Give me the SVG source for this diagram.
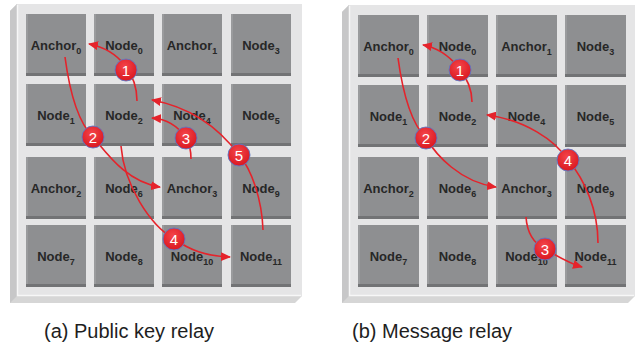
<svg xmlns="http://www.w3.org/2000/svg" width="637" height="347" viewBox="0 0 637 347">
<defs>
  <style>
    .tray-out { fill: #d6d6d6; }
    .tray-top { fill: #e5e5e6; }
    .tray-side { fill: #c7c7c8; }
    .tray-hl { fill: none; stroke: #f7f7f7; stroke-width: 1.5; }
    .tile { fill: #8e8f91; }
    .tile-sh { fill: #727375; }
    .tile-lt { fill: #9a9b9d; }
    .lbl { font-family: "Liberation Sans", Arial, sans-serif; font-weight: bold; font-size: 13px; fill: #272727; text-anchor: middle; }
    .sub { font-size: 9px; }
    .edge { fill: none; stroke: #e5232b; stroke-width: 1.6; marker-end: url(#arrow); }
    .badge { fill: url(#badgeFill); stroke: #5a78c8; stroke-width: 0.9; }
    .num { font-family: "Liberation Sans", Arial, sans-serif; font-size: 15px; fill: #ffffff; text-anchor: middle; }
    .cap { font-family: "Liberation Sans", Arial, sans-serif; font-size: 20px; fill: #1e1e1e; text-anchor: middle; }
  </style>
  <radialGradient id="badgeFill" cx="0.45" cy="0.35" r="0.7">
    <stop offset="0" stop-color="#f4454a"/>
    <stop offset="1" stop-color="#d8141d"/>
  </radialGradient>
  <marker id="arrow" markerUnits="userSpaceOnUse" markerWidth="10" markerHeight="9" refX="9" refY="4.5" orient="auto">
    <path d="M0,0 L10,4.5 L0,9 z" fill="#e5232b"/>
  </marker>
</defs>

<!-- Left panel tray -->
<g id="tray-a">
  <polygon class="tray-out" points="17,4 302,4 302,296 295,303 10,303 10,11"/>
  <polygon class="tray-side" points="10,11 17,4 17,296 10,303"/>
  <rect class="tray-top" x="17" y="4" width="285" height="292"/>
  <polyline class="tray-hl" points="17.5,5 17.5,295.5 301,295.5"/>
</g>

<!-- Right panel tray -->
<g id="tray-b">
  <polygon class="tray-out" points="349,5 635,5 635,296 628,303 342,303 342,12"/>
  <polygon class="tray-side" points="342,12 349,5 349,296 342,303"/>
  <rect class="tray-top" x="349" y="5" width="286" height="291"/>
  <polyline class="tray-hl" points="349.5,6 349.5,295.5 634,295.5"/>
</g>

<!-- Left panel nodes -->
<g id="a-anchor0"><rect class="tile" x="26" y="14" width="60" height="62"/><rect class="tile-sh" x="26" y="73" width="60" height="3"/><rect class="tile-lt" x="26" y="14" width="2" height="59"/><text class="lbl" x="56" y="50">Anchor<tspan class="sub" dy="4">0</tspan></text></g>
<g id="a-node0"><rect class="tile" x="94" y="14" width="60" height="62"/><rect class="tile-sh" x="94" y="73" width="60" height="3"/><rect class="tile-lt" x="94" y="14" width="2" height="59"/><text class="lbl" x="124" y="50">Node<tspan class="sub" dy="4">0</tspan></text></g>
<g id="a-anchor1"><rect class="tile" x="162" y="14" width="60" height="62"/><rect class="tile-sh" x="162" y="73" width="60" height="3"/><rect class="tile-lt" x="162" y="14" width="2" height="59"/><text class="lbl" x="192" y="50">Anchor<tspan class="sub" dy="4">1</tspan></text></g>
<g id="a-node3"><rect class="tile" x="231" y="14" width="60" height="62"/><rect class="tile-sh" x="231" y="73" width="60" height="3"/><rect class="tile-lt" x="231" y="14" width="2" height="59"/><text class="lbl" x="261" y="50">Node<tspan class="sub" dy="4">3</tspan></text></g>

<g id="a-node1"><rect class="tile" x="26" y="84" width="60" height="62"/><rect class="tile-sh" x="26" y="143" width="60" height="3"/><rect class="tile-lt" x="26" y="84" width="2" height="59"/><text class="lbl" x="56" y="120">Node<tspan class="sub" dy="4">1</tspan></text></g>
<g id="a-node2"><rect class="tile" x="94" y="84" width="60" height="62"/><rect class="tile-sh" x="94" y="143" width="60" height="3"/><rect class="tile-lt" x="94" y="84" width="2" height="59"/><text class="lbl" x="124" y="120">Node<tspan class="sub" dy="4">2</tspan></text></g>
<g id="a-node4"><rect class="tile" x="162" y="84" width="60" height="62"/><rect class="tile-sh" x="162" y="143" width="60" height="3"/><rect class="tile-lt" x="162" y="84" width="2" height="59"/><text class="lbl" x="192" y="120">Node<tspan class="sub" dy="4">4</tspan></text></g>
<g id="a-node5"><rect class="tile" x="231" y="84" width="60" height="62"/><rect class="tile-sh" x="231" y="143" width="60" height="3"/><rect class="tile-lt" x="231" y="84" width="2" height="59"/><text class="lbl" x="261" y="120">Node<tspan class="sub" dy="4">5</tspan></text></g>

<g id="a-anchor2"><rect class="tile" x="26" y="157" width="60" height="62"/><rect class="tile-sh" x="26" y="216" width="60" height="3"/><rect class="tile-lt" x="26" y="157" width="2" height="59"/><text class="lbl" x="56" y="193">Anchor<tspan class="sub" dy="4">2</tspan></text></g>
<g id="a-node6"><rect class="tile" x="94" y="157" width="60" height="62"/><rect class="tile-sh" x="94" y="216" width="60" height="3"/><rect class="tile-lt" x="94" y="157" width="2" height="59"/><text class="lbl" x="124" y="193">Node<tspan class="sub" dy="4">6</tspan></text></g>
<g id="a-anchor3"><rect class="tile" x="162" y="157" width="60" height="62"/><rect class="tile-sh" x="162" y="216" width="60" height="3"/><rect class="tile-lt" x="162" y="157" width="2" height="59"/><text class="lbl" x="192" y="193">Anchor<tspan class="sub" dy="4">3</tspan></text></g>
<g id="a-node9"><rect class="tile" x="231" y="157" width="60" height="62"/><rect class="tile-sh" x="231" y="216" width="60" height="3"/><rect class="tile-lt" x="231" y="157" width="2" height="59"/><text class="lbl" x="261" y="193">Node<tspan class="sub" dy="4">9</tspan></text></g>

<g id="a-node7"><rect class="tile" x="26" y="225" width="60" height="62"/><rect class="tile-sh" x="26" y="284" width="60" height="3"/><rect class="tile-lt" x="26" y="225" width="2" height="59"/><text class="lbl" x="56" y="261">Node<tspan class="sub" dy="4">7</tspan></text></g>
<g id="a-node8"><rect class="tile" x="94" y="225" width="60" height="62"/><rect class="tile-sh" x="94" y="284" width="60" height="3"/><rect class="tile-lt" x="94" y="225" width="2" height="59"/><text class="lbl" x="124" y="261">Node<tspan class="sub" dy="4">8</tspan></text></g>
<g id="a-node10"><rect class="tile" x="162" y="225" width="60" height="62"/><rect class="tile-sh" x="162" y="284" width="60" height="3"/><rect class="tile-lt" x="162" y="225" width="2" height="59"/><text class="lbl" x="192" y="261">Node<tspan class="sub" dy="4">10</tspan></text></g>
<g id="a-node11"><rect class="tile" x="231" y="225" width="60" height="62"/><rect class="tile-sh" x="231" y="284" width="60" height="3"/><rect class="tile-lt" x="231" y="225" width="2" height="59"/><text class="lbl" x="261" y="261">Node<tspan class="sub" dy="4">11</tspan></text></g>

<!-- Right panel nodes -->
<g id="b-anchor0"><rect class="tile" x="358" y="15" width="61" height="62"/><rect class="tile-sh" x="358" y="74" width="61" height="3"/><rect class="tile-lt" x="358" y="15" width="2" height="59"/><text class="lbl" x="388.5" y="51">Anchor<tspan class="sub" dy="4">0</tspan></text></g>
<g id="b-node0"><rect class="tile" x="427" y="15" width="61" height="62"/><rect class="tile-sh" x="427" y="74" width="61" height="3"/><rect class="tile-lt" x="427" y="15" width="2" height="59"/><text class="lbl" x="457.5" y="51">Node<tspan class="sub" dy="4">0</tspan></text></g>
<g id="b-anchor1"><rect class="tile" x="496" y="15" width="61" height="62"/><rect class="tile-sh" x="496" y="74" width="61" height="3"/><rect class="tile-lt" x="496" y="15" width="2" height="59"/><text class="lbl" x="526.5" y="51">Anchor<tspan class="sub" dy="4">1</tspan></text></g>
<g id="b-node3"><rect class="tile" x="565" y="15" width="61" height="62"/><rect class="tile-sh" x="565" y="74" width="61" height="3"/><rect class="tile-lt" x="565" y="15" width="2" height="59"/><text class="lbl" x="595.5" y="51">Node<tspan class="sub" dy="4">3</tspan></text></g>

<g id="b-node1"><rect class="tile" x="358" y="85" width="61" height="62"/><rect class="tile-sh" x="358" y="144" width="61" height="3"/><rect class="tile-lt" x="358" y="85" width="2" height="59"/><text class="lbl" x="388.5" y="121">Node<tspan class="sub" dy="4">1</tspan></text></g>
<g id="b-node2"><rect class="tile" x="427" y="85" width="61" height="62"/><rect class="tile-sh" x="427" y="144" width="61" height="3"/><rect class="tile-lt" x="427" y="85" width="2" height="59"/><text class="lbl" x="457.5" y="121">Node<tspan class="sub" dy="4">2</tspan></text></g>
<g id="b-node4"><rect class="tile" x="496" y="85" width="61" height="62"/><rect class="tile-sh" x="496" y="144" width="61" height="3"/><rect class="tile-lt" x="496" y="85" width="2" height="59"/><text class="lbl" x="526.5" y="121">Node<tspan class="sub" dy="4">4</tspan></text></g>
<g id="b-node5"><rect class="tile" x="565" y="85" width="61" height="62"/><rect class="tile-sh" x="565" y="144" width="61" height="3"/><rect class="tile-lt" x="565" y="85" width="2" height="59"/><text class="lbl" x="595.5" y="121">Node<tspan class="sub" dy="4">5</tspan></text></g>

<g id="b-anchor2"><rect class="tile" x="358" y="157" width="61" height="62"/><rect class="tile-sh" x="358" y="216" width="61" height="3"/><rect class="tile-lt" x="358" y="157" width="2" height="59"/><text class="lbl" x="388.5" y="193">Anchor<tspan class="sub" dy="4">2</tspan></text></g>
<g id="b-node6"><rect class="tile" x="427" y="157" width="61" height="62"/><rect class="tile-sh" x="427" y="216" width="61" height="3"/><rect class="tile-lt" x="427" y="157" width="2" height="59"/><text class="lbl" x="457.5" y="193">Node<tspan class="sub" dy="4">6</tspan></text></g>
<g id="b-anchor3"><rect class="tile" x="496" y="157" width="61" height="62"/><rect class="tile-sh" x="496" y="216" width="61" height="3"/><rect class="tile-lt" x="496" y="157" width="2" height="59"/><text class="lbl" x="526.5" y="193">Anchor<tspan class="sub" dy="4">3</tspan></text></g>
<g id="b-node9"><rect class="tile" x="565" y="157" width="61" height="62"/><rect class="tile-sh" x="565" y="216" width="61" height="3"/><rect class="tile-lt" x="565" y="157" width="2" height="59"/><text class="lbl" x="595.5" y="193">Node<tspan class="sub" dy="4">9</tspan></text></g>

<g id="b-node7"><rect class="tile" x="358" y="225" width="61" height="62"/><rect class="tile-sh" x="358" y="284" width="61" height="3"/><rect class="tile-lt" x="358" y="225" width="2" height="59"/><text class="lbl" x="388.5" y="261">Node<tspan class="sub" dy="4">7</tspan></text></g>
<g id="b-node8"><rect class="tile" x="427" y="225" width="61" height="62"/><rect class="tile-sh" x="427" y="284" width="61" height="3"/><rect class="tile-lt" x="427" y="225" width="2" height="59"/><text class="lbl" x="457.5" y="261">Node<tspan class="sub" dy="4">8</tspan></text></g>
<g id="b-node10"><rect class="tile" x="496" y="225" width="61" height="62"/><rect class="tile-sh" x="496" y="284" width="61" height="3"/><rect class="tile-lt" x="496" y="225" width="2" height="59"/><text class="lbl" x="526.5" y="261">Node<tspan class="sub" dy="4">10</tspan></text></g>
<g id="b-node11"><rect class="tile" x="565" y="225" width="61" height="62"/><rect class="tile-sh" x="565" y="284" width="61" height="3"/><rect class="tile-lt" x="565" y="225" width="2" height="59"/><text class="lbl" x="595.5" y="261">Node<tspan class="sub" dy="4">11</tspan></text></g>

<!-- Connectors -->
<g id="connectors">
  <path class="edge" d="M137,101 C137,75 120,50 89,44"/>
  <path class="edge" d="M65,57 C70,95 78,122 93,137 C106,152 126,182 160,187"/>
  <path class="edge" d="M191,159 C191,150 189,143 186,138 C178,126 166,119 152,118"/>
  <path class="edge" d="M121,146 C124,185 150,225 174,239 C190,250 205,256 230,257"/>
  <path class="edge" d="M263,230 C262,200 252,170 239,155 C222,132 195,108 152,100"/>

  <path class="edge" d="M472,102 C472,78 450,50 423,45"/>
  <path class="edge" d="M398,58 C403,95 412,124 426,138 C436,155 460,182 496,187"/>
  <path class="edge" d="M526,217 C527,232 533,243 545,249 C557,256 568,263 582,267"/>
  <path class="edge" d="M598,243 C598,210 585,180 568,160 C555,140 525,120 487,115"/>
</g>

<!-- Step badges -->
<g id="badges">
  <g id="a-step1"><circle class="badge" cx="126" cy="70" r="11"/><text class="num" x="126" y="75.5">1</text></g>
  <g id="a-step2"><circle class="badge" cx="93" cy="137" r="11"/><text class="num" x="93" y="142.5">2</text></g>
  <g id="a-step3"><circle class="badge" cx="186" cy="138" r="11"/><text class="num" x="186" y="143.5">3</text></g>
  <g id="a-step4"><circle class="badge" cx="174" cy="239" r="11"/><text class="num" x="174" y="244.5">4</text></g>
  <g id="a-step5"><circle class="badge" cx="239" cy="155" r="11"/><text class="num" x="239" y="160.5">5</text></g>

  <g id="b-step1"><circle class="badge" cx="460" cy="70" r="11"/><text class="num" x="460" y="75.5">1</text></g>
  <g id="b-step2"><circle class="badge" cx="426" cy="138" r="11"/><text class="num" x="426" y="143.5">2</text></g>
  <g id="b-step3"><circle class="badge" cx="545" cy="249" r="11"/><text class="num" x="545" y="254.5">3</text></g>
  <g id="b-step4"><circle class="badge" cx="568" cy="160" r="11"/><text class="num" x="568" y="165.5">4</text></g>
</g>

<!-- Captions -->
<text class="cap" x="129" y="338">(a) Public key relay</text>
<text class="cap" x="432" y="338">(b) Message relay</text>
</svg>
